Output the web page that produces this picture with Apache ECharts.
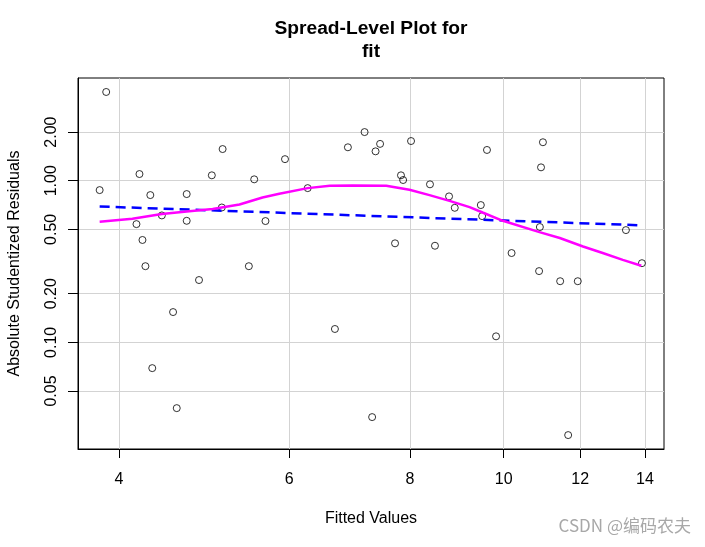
<!DOCTYPE html>
<html><head><meta charset="utf-8">
<script src="https://cdn.jsdelivr.net/npm/echarts@6/dist/echarts.min.js"></script>
<style>html,body{margin:0;padding:0;background:#fff}#c{width:705px;height:547px}</style>
</head><body><div id="c"></div>
<script>
// Fitted values (x) and absolute studentized residuals (y)
const fittedValues = [3.88, 3.82, 4.20, 4.31, 4.17, 4.23, 4.26, 4.43, 4.70, 4.70,
  4.99, 5.12, 5.11, 5.52, 5.94, 6.27, 5.67, 5.45, 6.90, 7.18,
  7.45, 7.37, 8.02, 7.83, 7.87, 8.39, 8.78, 8.90, 7.72, 8.49,
  9.61, 9.47, 9.50, 10.98, 10.93, 10.90, 10.19, 13.38, 13.90, 4.84,
  4.55, 4.33, 4.59, 6.69, 7.31, 10.88, 11.44, 11.93, 9.82, 11.66];
const absStudResiduals = [3.54, 0.875, 1.10, 0.815, 0.539, 0.43, 0.296, 0.61, 0.565, 0.827,
  1.08, 1.57, 0.683, 1.02, 1.36, 0.90, 0.563, 0.296, 1.61, 2.00,
  1.69, 1.52, 1.76, 1.08, 1.01, 0.95, 0.80, 0.68, 0.41, 0.396,
  1.55, 0.707, 0.604, 1.73, 1.21, 0.517, 0.357, 0.495, 0.309, 0.243,
  0.154, 0.0693, 0.0392, 0.121, 0.0345, 0.276, 0.239, 0.239, 0.109, 0.0267];
// Robust linear fit (straight in log-log)
const fitLineX = [3.82, 13.9];
const fitLineY = [0.693, 0.53];
// Lowess smooth
const lowessX = [3.82, 4.13, 4.43, 4.70, 5.00, 5.33, 5.63, 5.86, 6.27, 6.61, 6.98, 7.56, 7.99,
  8.38, 8.79, 9.22, 9.51, 9.98, 10.89, 11.43, 12.08, 12.66, 13.28, 13.88];
const lowessY = [0.557, 0.582, 0.622, 0.645, 0.668, 0.713, 0.788, 0.830, 0.900, 0.930, 0.934, 0.931, 0.879,
  0.815, 0.751, 0.687, 0.636, 0.565, 0.481, 0.442, 0.392, 0.357, 0.324, 0.298];
// Axis ticks
const xTicks = [4, 6, 8, 10, 12, 14];
const yTicks = [0.05, 0.1, 0.2, 0.5, 1, 2];
const yTickLabels = ['0.05', '0.10', '0.20', '0.50', '1.00', '2.00'];
const xRange = [3.628, 14.65];
const yRange = [0.0219, 4.32];

const zip = (a, b) => a.map((v, i) => [v, b[i]]);
const font = '"Liberation Sans", Arial, sans-serif';

const chart = echarts.init(document.getElementById('c'), null, {renderer: 'canvas'});
chart.setOption({
  animation: false,
  backgroundColor: '#fff',
  title: {
    text: 'Spread-Level Plot for\nfit',
    left: 371, top: 17, textAlign: 'center', padding: 0,
    textStyle: {fontFamily: font, fontWeight: 'bold', fontSize: 19.2, lineHeight: 23, color: '#000'}
  },
  grid: {left: 78, top: 78, right: 41, bottom: 98, show: true, borderColor: '#000', borderWidth: 1,
    backgroundColor: 'transparent', containLabel: false, outerBoundsMode: 'none'},
  xAxis: {
    type: 'log', logBase: 10, min: xRange[0], max: xRange[1],
    name: 'Fitted Values', nameLocation: 'middle', nameGap: 62,
    nameTextStyle: {fontFamily: font, fontSize: 16, color: '#000'},
    axisLine: {show: true, onZero: false, lineStyle: {color: '#000'}},
    axisTick: {show: true, inside: false, length: 9, customValues: xTicks, lineStyle: {color: '#000'}},
    axisLabel: {customValues: xTicks, margin: 23, fontFamily: font, fontSize: 16, color: '#000',
      formatter: v => String(Math.round(v))},
    splitLine: {show: true, lineStyle: {color: '#d3d3d3', width: 1}},
    minorTick: {show: false}, minorSplitLine: {show: false}
  },
  yAxis: {
    type: 'log', logBase: 10, min: yRange[0], max: yRange[1],
    name: 'Absolute Studentized Residuals', nameLocation: 'middle', nameGap: 55,
    nameTextStyle: {fontFamily: font, fontSize: 16, color: '#000'},
    axisLine: {show: true, onZero: false, lineStyle: {color: '#000'}},
    axisTick: {show: true, inside: false, length: 10, customValues: yTicks, lineStyle: {color: '#000'}},
    axisLabel: {customValues: yTicks, margin: 18, rotate: 90, fontFamily: font, fontSize: 16, color: '#000',
      formatter: v => { const i = yTicks.findIndex(t => Math.abs(t - v) / t < 1e-6); return i >= 0 ? yTickLabels[i] : ''; }},
    splitLine: {show: true, lineStyle: {color: '#d3d3d3', width: 1}},
    minorTick: {show: false}, minorSplitLine: {show: false}
  },
  graphic: [{
    type: 'text', right: 14, top: 517,
    style: {text: 'CSDN @编码农夫', fill: '#a8a8a8', font: '17px "Noto Sans CJK SC", sans-serif'}
  }],
  series: [
    {
      type: 'scatter', data: zip(fittedValues, absStudResiduals), symbol: 'circle', symbolSize: 7,
      itemStyle: {color: 'rgba(0,0,0,0)', borderColor: '#000', borderWidth: 1}, z: 3
    },
    {
      type: 'line', data: zip(fitLineX, fitLineY), showSymbol: false, symbol: 'none',
      lineStyle: {color: '#0000ff', width: 2.5, type: [10, 6]}, z: 4
    },
    {
      type: 'line', data: zip(lowessX, lowessY), showSymbol: false, symbol: 'none', smooth: false,
      lineStyle: {color: '#ff00ff', width: 2.5}, z: 5
    }
  ]
});
</script>
</body></html>
